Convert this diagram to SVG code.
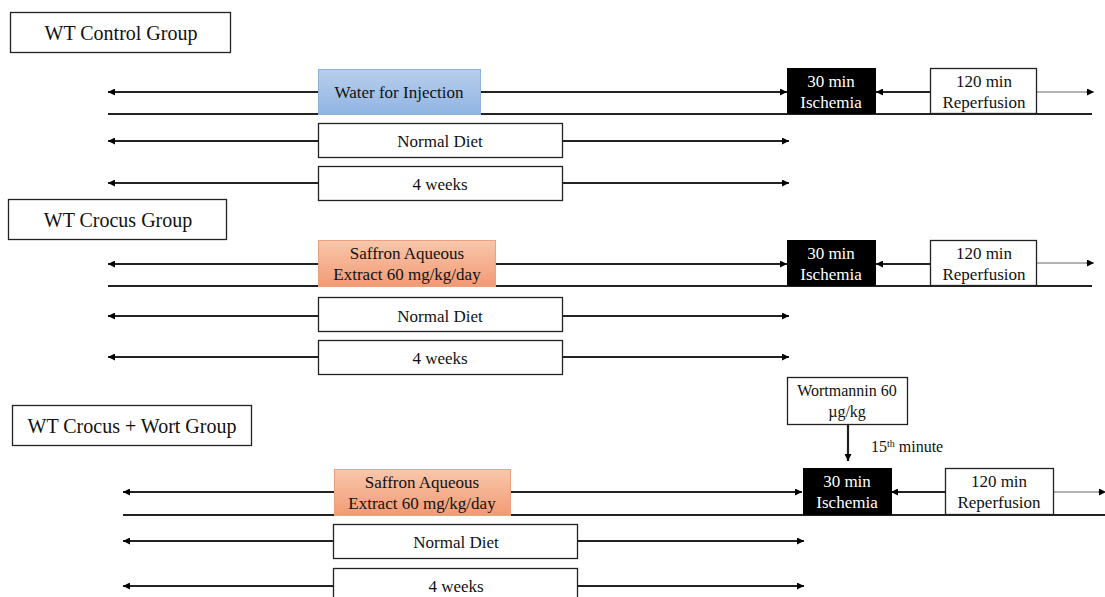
<svg xmlns="http://www.w3.org/2000/svg" width="1105" height="597" viewBox="0 0 1105 597" font-family="'Liberation Serif', 'Times New Roman', serif">
<defs>
<marker id="ah" viewBox="0 0 10 10" refX="10" refY="5" markerWidth="7" markerHeight="7" markerUnits="userSpaceOnUse" orient="auto-start-reverse">
<path d="M0,0 L10,5 L0,10 z" fill="#000"/>
</marker>
<linearGradient id="blue" x1="0" y1="0" x2="0" y2="1">
<stop offset="0" stop-color="#b9cfec"/>
<stop offset="1" stop-color="#8fb4e3"/>
</linearGradient>
<linearGradient id="orange" x1="0" y1="0" x2="0" y2="1">
<stop offset="0" stop-color="#f8c7ab"/>
<stop offset="1" stop-color="#f29a74"/>
</linearGradient>
</defs>
<style>
text{font-family:'Liberation Serif','Times New Roman',serif;fill:#111;text-anchor:middle}
.lbl{font-size:20px}
.t{font-size:17px}
.s{font-size:16px}
.w{fill:#fff}
.box{fill:#fff;stroke:#222;stroke-width:1.3}
.blk{fill:#000;stroke:#000}
.ln{stroke:#222;stroke-width:2.2;fill:none}
.base{stroke:#222;stroke-width:2;fill:none}
.gr{stroke:#999;stroke-width:1.3;fill:none}
.arr{marker-end:url(#ah)}
</style>
<rect width="1105" height="597" fill="#fff"/>

<g id="connectors">
<line class="ln arr" x1="318" y1="92" x2="108" y2="92"/>
<line class="ln arr" x1="481" y1="92" x2="787" y2="92"/>
<line class="ln arr" x1="931" y1="92" x2="876" y2="92"/>
<line class="gr" x1="1037" y1="92" x2="1088" y2="92"/>
<line class="arr" stroke="#000" stroke-width="0.5" x1="1086" y1="92" x2="1094" y2="92"/>
<line class="base" x1="108" y1="114" x2="1092" y2="114"/>
<line class="ln arr" x1="318" y1="141" x2="108" y2="141"/>
<line class="ln arr" x1="563" y1="141" x2="789" y2="141"/>
<line class="ln arr" x1="318" y1="183" x2="108" y2="183"/>
<line class="ln arr" x1="563" y1="183" x2="789" y2="183"/>
<line class="ln arr" x1="318" y1="264" x2="108" y2="264"/>
<line class="ln arr" x1="495" y1="264" x2="787" y2="264"/>
<line class="ln arr" x1="931" y1="264" x2="876" y2="264"/>
<line class="gr" x1="1037" y1="263" x2="1088" y2="263"/>
<line class="arr" stroke="#000" stroke-width="0.5" x1="1086" y1="263" x2="1094" y2="263"/>
<line class="base" x1="108" y1="286" x2="1092" y2="286"/>
<line class="ln arr" x1="318" y1="316" x2="108" y2="316"/>
<line class="ln arr" x1="563" y1="316" x2="789" y2="316"/>
<line class="ln arr" x1="318" y1="357" x2="108" y2="357"/>
<line class="ln arr" x1="563" y1="357" x2="789" y2="357"/>
<line class="ln arr" x1="848" y1="424" x2="848" y2="461"/>
<line class="ln arr" x1="334" y1="492" x2="123" y2="492"/>
<line class="ln arr" x1="510" y1="492" x2="802" y2="492"/>
<line class="ln arr" x1="946" y1="492" x2="891" y2="492"/>
<line class="gr" x1="1053" y1="492" x2="1100" y2="492"/>
<line class="arr" stroke="#000" stroke-width="0.5" x1="1098" y1="492" x2="1106" y2="492"/>
<line class="base" x1="123" y1="515" x2="1105" y2="515"/>
<line class="ln arr" x1="334" y1="541" x2="123" y2="541"/>
<line class="ln arr" x1="578" y1="541" x2="804" y2="541"/>
<line class="ln arr" x1="334" y1="586" x2="123" y2="586"/>
<line class="ln arr" x1="578" y1="586" x2="804" y2="586"/>
</g>

<g id="g1-label"><rect class="box" x="10.5" y="12.5" width="220" height="40"/><text class="lbl" x="121" y="40">WT Control Group</text></g>
<g id="g1-water"><rect x="318.5" y="69.5" width="162" height="45" fill="url(#blue)" stroke="#8eb1dc" stroke-width="1"/><text class="t" x="399" y="98">Water for Injection</text></g>
<g id="g1-isch"><rect class="blk" x="787.5" y="68.5" width="88" height="45"/><text class="t w" x="831" y="87">30 min</text><text class="t w" x="831" y="108">Ischemia</text></g>
<g id="g1-rep"><rect class="box" x="930.5" y="68.5" width="106" height="45"/><text class="t" x="984" y="87">120 min</text><text class="t" x="984" y="108">Reperfusion</text></g>
<g id="g1-diet"><rect class="box" x="318.5" y="123.5" width="244" height="34"/><text class="t" x="440" y="147">Normal Diet</text></g>
<g id="g1-weeks"><rect class="box" x="318.5" y="166.5" width="244" height="34"/><text class="t" x="440" y="190">4 weeks</text></g>

<g id="g2-label"><rect class="box" x="8.5" y="199.5" width="218" height="40"/><text class="lbl" x="118" y="227">WT Crocus Group</text></g>
<g id="g2-saffron"><rect x="318.5" y="240.5" width="177" height="46" fill="url(#orange)" stroke="#f0a07c" stroke-width="1"/><text class="t" x="407" y="259">Saffron Aqueous</text><text class="t" x="407" y="280">Extract 60 mg/kg/day</text></g>
<g id="g2-isch"><rect class="blk" x="787.5" y="240.5" width="88" height="45"/><text class="t w" x="831" y="259">30 min</text><text class="t w" x="831" y="280">Ischemia</text></g>
<g id="g2-rep"><rect class="box" x="930.5" y="240.5" width="106" height="45"/><text class="t" x="984" y="259">120 min</text><text class="t" x="984" y="280">Reperfusion</text></g>
<g id="g2-diet"><rect class="box" x="318.5" y="297.5" width="244" height="34"/><text class="t" x="440" y="322">Normal Diet</text></g>
<g id="g2-weeks"><rect class="box" x="318.5" y="340.5" width="244" height="34"/><text class="t" x="440" y="364">4 weeks</text></g>

<g id="g3-label"><rect class="box" x="12.5" y="405.5" width="239" height="40"/><text class="lbl" x="132" y="433">WT Crocus + Wort Group</text></g>
<g id="g3-wort"><rect class="box" x="787.5" y="377.5" width="120" height="47"/><text class="s" x="847" y="396">Wortmannin 60</text><text class="s" x="847" y="417">µg/kg</text></g>
<g id="g3-15th"><text class="s" x="871" y="452" style="text-anchor:start">15<tspan dy="-5" style="font-size:10px">th</tspan><tspan dy="5"> minute</tspan></text></g>
<g id="g3-saffron"><rect x="334.5" y="469.5" width="176" height="46" fill="url(#orange)" stroke="#f0a07c" stroke-width="1"/><text class="t" x="422" y="488">Saffron Aqueous</text><text class="t" x="422" y="509">Extract 60 mg/kg/day</text></g>
<g id="g3-isch"><rect class="blk" x="803.5" y="468.5" width="88" height="46"/><text class="t w" x="847" y="487">30 min</text><text class="t w" x="847" y="508">Ischemia</text></g>
<g id="g3-rep"><rect class="box" x="945.5" y="468.5" width="108" height="46"/><text class="t" x="999" y="487">120 min</text><text class="t" x="999" y="508">Reperfusion</text></g>
<g id="g3-diet"><rect class="box" x="333.5" y="524.5" width="244" height="34"/><text class="t" x="456" y="548">Normal Diet</text></g>
<g id="g3-weeks"><rect class="box" x="333.5" y="568.5" width="244" height="40"/><text class="t" x="456" y="592">4 weeks</text></g>
</svg>
